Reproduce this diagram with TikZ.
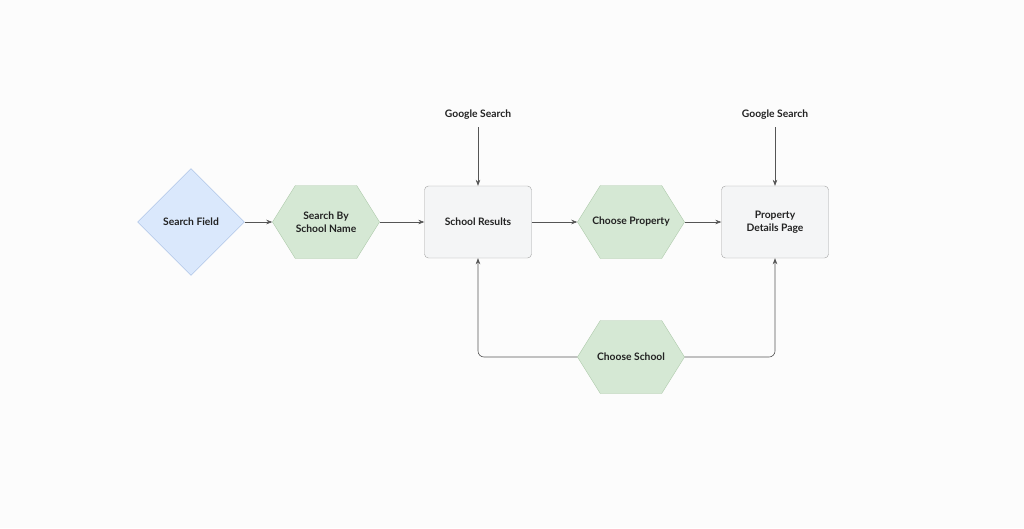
\documentclass[tikz,border=0pt]{standalone}
\usepackage{fontspec}
\setmainfont{Lato}
\usepackage{tikz}
\usetikzlibrary{shapes.geometric,shapes.symbols,arrows.meta}
\definecolor{fond}{HTML}{FCFCFC}
\definecolor{bleu}{HTML}{DAE8FC}
\definecolor{bleubord}{HTML}{9DB8DE}
\definecolor{vert}{HTML}{D5E8D4}
\definecolor{vertbord}{HTML}{AFCBAC}
\definecolor{gris}{HTML}{F4F5F6}
\definecolor{grisbord}{HTML}{A3A3A3}
\definecolor{trait}{HTML}{555555}
\definecolor{texte}{HTML}{222222}

\begin{document}
\begin{tikzpicture}[x=1pt,y=-1pt,
  every node/.style={font=\bfseries\fontsize{10.3}{12.5}\selectfont, text=texte, align=center},
  losange/.style={diamond, draw=bleubord, fill=bleu, minimum width=107pt, minimum height=107pt, inner sep=0pt},
  hexa/.style={signal, signal to=west and east, signal pointer angle=116, draw=vertbord, fill=vert, minimum width=107pt, minimum height=73pt, inner xsep=-10pt, inner ysep=0pt},
  boite/.style={rectangle, rounded corners=4pt, draw=grisbord, fill=gris, minimum width=107pt, minimum height=72pt, inner sep=0pt},
  fleche/.style={-{Stealth[length=6pt,width=4.5pt]}, draw=trait, semithick}]

 % le fond
 \fill[fond] (0,0) rectangle (1024,528);
 \useasboundingbox (0,0) rectangle (1024,528);

 % les formes de la ligne du haut
 \node[losange] (sf) at (191,222) {Search Field};
 \node[hexa] (sb) at (326,222) {Search By\\School Name};
 \node[boite] (sr) at (478,222) {School Results};
 \node[hexa] (cp) at (631,222) {Choose Property};
 \node[boite] (pd) at (775,222) {Property\\Details Page};

 % les entrées Google
 \node (gs1) at (478,115) {Google Search};
 \node (gs2) at (775,115) {Google Search};

 % le retour par le bas
 \node[hexa] (cs) at (631,357) {Choose School};

 \draw[fleche] (sf.east) -- (sb.west);
 \draw[fleche] (sb.east) -- (sr.west);
 \draw[fleche] (sr.east) -- (cp.west);
 \draw[fleche] (cp.east) -- (pd.west);

 \draw[fleche] (gs1.south) ++(0,4) -- (sr.north);
 \draw[fleche] (gs2.south) ++(0,4) -- (pd.north);

 \draw[fleche, rounded corners=6pt] (cs.west) -| (sr.south);
 \draw[fleche, rounded corners=6pt] (cs.east) -| (pd.south);

\end{tikzpicture}
\end{document}
